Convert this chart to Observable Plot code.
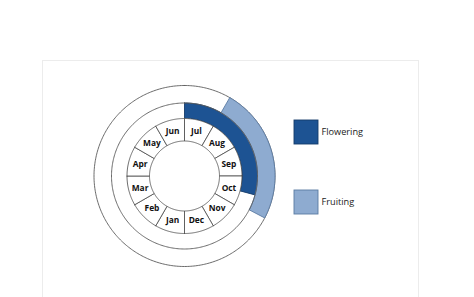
<!DOCTYPE html>
<html>
<head>
<meta charset="utf-8">
<script src="https://cdn.jsdelivr.net/npm/d3@7"></script>
<script src="https://cdn.jsdelivr.net/npm/@observablehq/plot@0.6"></script>
<style>
  html, body { margin: 0; padding: 0; background: #fff; }
  #wrap { position: relative; width: 474px; height: 297px; overflow: hidden; }
  #frame { position: absolute; left: 42px; top: 60px; width: 377px; height: 260px; border: 1px solid #ececec; box-sizing: border-box; }
  #chart { position: absolute; left: 0; top: 0; }
</style>
</head>
<body>
<div id="wrap"><div id="frame"></div><div id="chart"></div></div>
<script>
// ---- data ----
const months = ["Jul", "Aug", "Sep", "Oct", "Nov", "Dec", "Jan", "Feb", "Mar", "Apr", "May", "Jun"];
const seriesNames = ["Flowering", "Fruiting"];
const seriesStart = [0.0, 1.0];   // in months from 1 Jul
const seriesEnd = [3.5, 3.92];
const seriesColors = ["#1d5393", "#8eabd0"];
const seriesStrokes = ["#163c6a", "#5a7ba3"];

// ---- layout ----
const W = 474, H = 297, cx = 184, cy = 175.5;
const rHole = 35, rMonth = 57.5, rMid = 73, rOuter = 90.5, rLabel = 46;

function pol(m, r) {
  const a = m * Math.PI / 6;
  return [r * Math.sin(a), r * Math.cos(a)];
}
function band(m0, m1, r0, r1, key) {
  const n = Math.max(2, Math.ceil((m1 - m0) * 30));
  const pts = [];
  for (let i = 0; i <= n; i++) { const [x, y] = pol(m0 + (m1 - m0) * i / n, r1); pts.push({x, y, key}); }
  for (let i = n; i >= 0; i--) { const [x, y] = pol(m0 + (m1 - m0) * i / n, r0); pts.push({x, y, key}); }
  pts.push({...pts[0]});
  return pts;
}
function ring(r, key) {
  const pts = [];
  for (let i = 0; i <= 360; i++) { const [x, y] = pol(i / 30, r); pts.push({x, y, key}); }
  return pts;
}

const outerCircle = ring(rOuter, "outer");
const midCircle = ring(rMid, "mid");
const seriesBands = seriesNames.flatMap((s, i) =>
  band(seriesStart[i], seriesEnd[i], i === 0 ? rMonth : rMid, i === 0 ? rMid : rOuter, s));
const monthCells = months.flatMap((m, i) => band(i, i + 1, rHole, rMonth, m));
const monthLabels = months.map((m, i) => { const [x, y] = pol(i + 0.5, rLabel); return {m, x, y}; });

const legendX = 110, legendY0 = 55.5, legendGap = 70, sq = 24;
const legend = seriesNames.map((s, i) => ({s, y: legendY0 - i * legendGap}));

const chart = Plot.plot({
  width: W, height: H,
  marginTop: 0, marginRight: 0, marginBottom: 0, marginLeft: 0,
  x: {domain: [-cx, W - cx], range: [0, W], axis: null},
  y: {domain: [cy - H, cy], range: [H, 0], axis: null},
  color: {domain: seriesNames, range: seriesColors},
  style: {background: "transparent"},
  marks: [
    Plot.line(outerCircle, {x: "x", y: "y", z: "key", fill: "white", stroke: "#5a5a5a", strokeWidth: 0.9}),
    Plot.line(seriesBands, {x: "x", y: "y", z: "key", fill: "key",
      stroke: d => seriesStrokes[seriesNames.indexOf(d.key)], strokeWidth: 0.9}),
    Plot.line(midCircle, {x: "x", y: "y", z: "key", stroke: "#5a5a5a", strokeWidth: 0.9}),
    Plot.line(monthCells, {x: "x", y: "y", z: "key", fill: "white", stroke: "#4a4a4a", strokeWidth: 0.8}),
    Plot.text(monthLabels, {x: "x", y: "y", text: "m", fontSize: 8.4, fontWeight: "bold",
      fontFamily: "Open Sans, sans-serif", fill: "#111"}),
    Plot.rect(legend, {x1: legendX, x2: legendX + sq, y1: d => d.y, y2: d => d.y - sq, fill: "s",
      stroke: d => seriesStrokes[seriesNames.indexOf(d.s)], strokeWidth: 0.9}),
    Plot.text(legend, {x: legendX + sq + 3, y: d => d.y - sq / 2, text: "s", textAnchor: "start",
      fontSize: 9.2, fontFamily: "Open Sans, sans-serif", fill: "#222"})
  ]
});
document.getElementById("chart").appendChild(chart);
</script>
</body>
</html>
